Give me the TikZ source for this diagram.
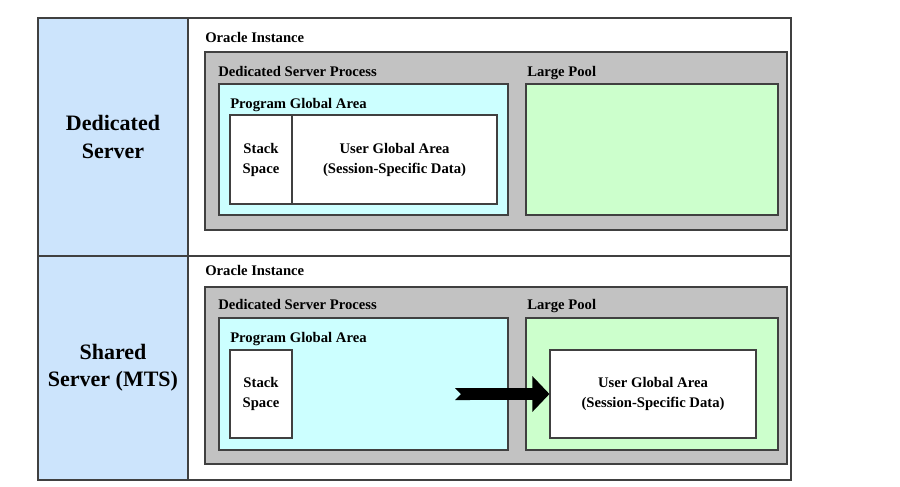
\documentclass[tikz,border=0pt]{standalone}
\usepackage{fontspec}
\setmainfont{Liberation Serif}
\usetikzlibrary{arrows.meta,positioning,fit,calc}
\definecolor{smcell}{RGB}{204,228,252}
\definecolor{smgray}{RGB}{194,194,194}
\definecolor{smcyan}{RGB}{204,255,255}
\definecolor{smgreen}{RGB}{204,255,204}
\definecolor{smedge}{RGB}{64,64,64}
\tikzset{
  smframe/.style={inner sep=0pt, draw=smedge, line width=0.8pt},
  smcellbox/.style={smframe, fill=smcell},
  smwhite/.style={smframe, fill=white},
  smgraybox/.style={smframe, fill=smgray},
  smcyanbox/.style={smframe, fill=smcyan},
  smgreenbox/.style={smframe, fill=smgreen},
  smtitle/.style={font=\fontsize{16.5}{20.5}\selectfont\bfseries, align=center},
  smlabel/.style={font=\fontsize{11}{15}\selectfont\bfseries, anchor=west, inner sep=0pt,
    text height=7.5pt, text depth=2.5pt},
  smtext/.style={font=\fontsize{11}{15}\selectfont\bfseries, align=center},
  smarrow/.style={line width=9pt, {Triangle Cap[reversed]}-{Triangle[length=12.75pt,width=26pt]}}
}
\begin{document}
\begin{tikzpicture}[x=0.75pt, y=-0.75pt]
  \useasboundingbox[fill=white] (0,0) rectangle (900,486);
  % table cells
  \node[smcellbox, fit={(38,18)(188,256)}] (dedcell) {};
  \node[smcellbox, fit={(38,256)(188,480)}] (shcell) {};
  \node[smwhite, fit={(188,18)(791,256)}] (dedrow) {};
  \node[smwhite, fit={(188,256)(791,480)}] (shrow) {};
  \node[smtitle] at (dedcell.center) {Dedicated\\Server};
  \node[smtitle] at (shcell.center) {Shared\\Server (MTS)};

  % dedicated server
  \node[smlabel] (oi1) at (205,39) {Oracle Instance};
  \node[smgraybox, fit={(205,52)(787,230)}] (inst1) {};
  \node[smlabel] (dsp1) at (218,73) {Dedicated Server Process};
  \node[smlabel] (lp1) at (527,73) {Large Pool};
  \node[smcyanbox, fit={(219,84)(508,215)}] (pga1) {};
  \node[smgreenbox, fit={(526,84)(778,215)}] (pool1) {};
  \node[smlabel] (pgl1) at (230,105) {Program Global Area};
  \node[smwhite, fit={(230,115)(292,204)}] (stack1) {};
  \node[smwhite, fit={(292,115)(497,204)}] (uga1) {};
  \node[smtext] at (stack1.center) {Stack\\Space};
  \node[smtext] at (uga1.center) {User Global Area\\(Session-Specific Data)};

  % shared server
  \node[smlabel] (oi2) at (205,272) {Oracle Instance};
  \node[smgraybox, fit={(205,287)(787,464)}] (inst2) {};
  \node[smlabel] (dsp2) at (218,306) {Dedicated Server Process};
  \node[smlabel] (lp2) at (527,306) {Large Pool};
  \node[smcyanbox, fit={(219,318)(508,450)}] (pga2) {};
  \node[smgreenbox, fit={(526,318)(778,450)}] (pool2) {};
  \node[smlabel] (pgl2) at (230,339) {Program Global Area};
  \node[smwhite, fit={(230,350)(292,438)}] (stack2) {};
  \node[smwhite, fit={(550,350)(756,438)}] (uga2) {};
  \node[smtext] at (stack2.center) {Stack\\Space};
  \node[smtext] at (uga2.center) {User Global Area\\(Session-Specific Data)};

  % UGA moves to the large pool
  \coordinate (ugatail) at (455,394);
  \draw[smarrow] (ugatail) -- (uga2.west);
\end{tikzpicture}
\end{document}
